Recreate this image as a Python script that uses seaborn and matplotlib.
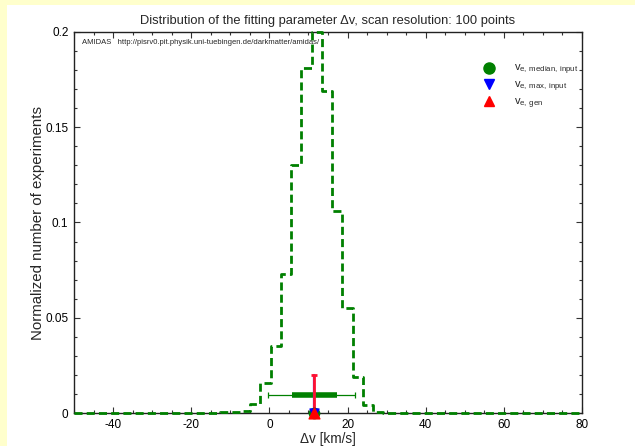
import numpy as np
import pandas as pd
import matplotlib.pyplot as plt
import matplotlib.ticker as mticker
from matplotlib.patches import Rectangle
from matplotlib.lines import Line2D
import seaborn as sns

# histogram of the fitted parameter (bin edges and normalized counts)
hist_edges = [-50.0, -12.76, -10.14, -7.52, -4.90, -2.28, 0.34, 2.96, 5.58, 8.20,
              10.82, 13.44, 16.06, 18.68, 21.30, 23.92, 26.54, 29.16, 80.0]
hist_values = [0.0, 0.0003, 0.0005, 0.001, 0.0047, 0.016, 0.035, 0.073, 0.130, 0.181,
               0.200, 0.169, 0.106, 0.055, 0.019, 0.0042, 0.0007, 0.0]

# median and ranges
dv_median = 11.45
range_1sigma = [5.9, 17.2]
range_2sigma = [-0.36, 21.9]
bar_height = 0.0093
gen_top = 0.02

legend_labels = [r'$\mathregular{v_{e,\,median,\,input}}$',
                 r'$\mathregular{v_{e,\,max,\,input}}$',
                 r'$\mathregular{v_{e,\,gen}}$']

sns.set_theme(style="ticks")
plt.rcParams['font.family'] = ['Liberation Sans', 'DejaVu Sans']
plt.rcParams['axes.unicode_minus'] = False
plt.rcParams['mathtext.fontset'] = 'custom'
plt.rcParams['mathtext.rm'] = 'Liberation Sans'

fig = plt.figure(figsize=(6.35, 4.46), dpi=100, facecolor='#ffffcc')
fig.patches.append(Rectangle((7 / 635, 0), 1, (446 - 5) / 446, transform=fig.transFigure,
                             facecolor='white', edgecolor='none', zorder=-10))
ax = fig.add_axes([74 / 635, 33 / 446, 508 / 635, 381 / 446])
ax.set_facecolor('white')

df = pd.DataFrame({'x': hist_edges, 'y': hist_values + [hist_values[-1]]})
sns.lineplot(data=df, x='x', y='y', ax=ax, color='#008000', linewidth=2.0,
             drawstyle='steps-post', clip_on=False, zorder=3)
ax.lines[-1].set_dashes([2.9, 1.5])

# 2-sigma thin bar and 1-sigma thick bar
ax.errorbar(dv_median, bar_height,
            xerr=[[dv_median - range_2sigma[0]], [range_2sigma[1] - dv_median]],
            fmt='none', ecolor='#008000', elinewidth=0.9, capsize=2.5, capthick=0.9, zorder=4)
ax.plot(range_1sigma, [bar_height, bar_height], color='#008000', linewidth=4, zorder=4,
        solid_capstyle='butt')

# generated value bar
ax.plot([dv_median - 0.15, dv_median - 0.15], [0, gen_top], color='#6030e0', linewidth=1.6, zorder=5)
ax.errorbar(dv_median + 0.05, gen_top / 2, yerr=gen_top / 2, fmt='none', ecolor='#ff1030',
            elinewidth=2.0, capsize=2.5, capthick=2.0, zorder=6)

ax.scatter(dv_median, 0, s=55, marker='o', color='#008000', zorder=7, clip_on=False)
ax.scatter(dv_median, 0, s=42, marker='v', color='#0000ff', zorder=8, clip_on=False)
ax.scatter(dv_median, 0, s=60, marker='^', color='#ff0000', zorder=9, clip_on=False)

handles = [Line2D([], [], linestyle='none', marker='o', markersize=8, color='#008000'),
           Line2D([], [], linestyle='none', marker='v', markersize=7, color='#0000ff'),
           Line2D([], [], linestyle='none', marker='^', markersize=7, color='#ff0000')]
ax.legend(handles, legend_labels, loc='upper left', bbox_to_anchor=(0.776, 0.945),
          frameon=False, fontsize=8, handletextpad=1.25, labelspacing=0.2)

ax.text(0.015, 0.982, 'AMIDAS   http://pisrv0.pit.physik.uni-tuebingen.de/darkmatter/amidas/',
        transform=ax.transAxes, fontsize=5.5, va='top', ha='left', zorder=2)

ax.set_xlim(-50, 80)
ax.set_ylim(0, 0.2)
ax.xaxis.set_major_locator(mticker.FixedLocator([-40, -20, 0, 20, 40, 60, 80]))
ax.xaxis.set_minor_locator(mticker.MultipleLocator(5))
ax.yaxis.set_major_locator(mticker.MultipleLocator(0.05))
ax.yaxis.set_minor_locator(mticker.MultipleLocator(0.01))
ax.yaxis.set_major_formatter(mticker.FuncFormatter(lambda v, p: f'{v:g}'))
ax.tick_params(which='both', direction='in', top=True, right=True, labelsize=8.5,
               colors='#333333', labelcolor='black', width=0.8)
ax.tick_params(which='major', length=4, pad=4)
ax.tick_params(which='minor', length=2.5)
for s in ax.spines.values():
    s.set_linewidth(1.0)
    s.set_color('#222222')

ax.set_xlabel('Δv [km/s]', fontsize=9.8, labelpad=1)
ax.set_ylabel('Normalized number of experiments', fontsize=10.8, labelpad=0)
ax.set_title('Distribution of the fitting parameter Δv, scan resolution: 100 points',
             fontsize=9.3, pad=6)

fig.savefig('out.png', dpi=100, facecolor=fig.get_facecolor())
